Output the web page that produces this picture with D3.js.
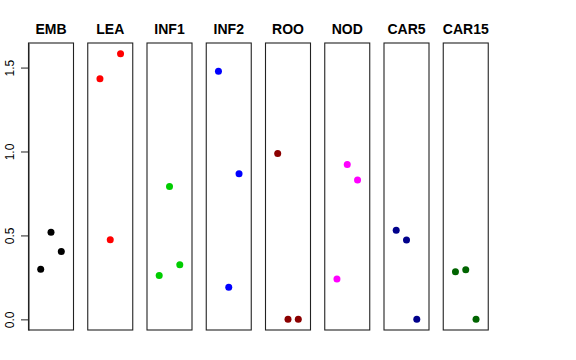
<!DOCTYPE html>
<html>
<head>
<meta charset="utf-8">
<script src="https://cdn.jsdelivr.net/npm/d3@7"></script>
<style>
  html, body { margin: 0; padding: 0; background: #fff; }
  svg { display: block; font-family: "Liberation Sans", Arial, Helvetica, sans-serif; }
</style>
</head>
<body>
<svg id="chart" width="576" height="360"></svg>
<script>
const categories = ["EMB", "LEA", "INF1", "INF2", "ROO", "NOD", "CAR5", "CAR15"];
const colors = ["#000000", "#FF0000", "#00CD00", "#0000FF", "#8B0000", "#FF00FF", "#00008B", "#006400"];
const valEMB  = [0.299, 0.519, 0.404];
const valLEA  = [1.434, 0.475, 1.583];
const valINF1 = [0.261, 0.792, 0.325];
const valINF2 = [1.478, 0.192, 0.867];
const valROO  = [0.988, 0.000, 0.000];
const valNOD  = [0.240, 0.923, 0.830];
const valCAR5 = [0.531, 0.473, 0.000];
const valCAR15 = [0.283, 0.295, 0.000];
const seriesValues = [valEMB, valLEA, valINF1, valINF2, valROO, valNOD, valCAR5, valCAR15];
const yTicks = [0, 0.5, 1, 1.5];
const yTickLabels = ["0.0", "0.5", "1.0", "1.5"];

const svg = d3.select("#chart");
const plotTop = 43, plotBottom = 330;
const yMax = d3.max(seriesValues.flat());
const pad = 0.04 * yMax;
const y = d3.scaleLinear().domain([-pad, yMax + pad]).range([plotBottom, plotTop]);

const xPanel = d3.scaleBand().domain(categories)
  .range([28.5, 488.25]).paddingInner(14.25 / 59.25).paddingOuter(0).align(0);

categories.forEach((cat, i) => {
  const x0 = xPanel(cat);
  const w = xPanel.bandwidth();
  const cx = x0 + w / 2;
  const xIn = d3.scaleLinear().domain([1, 3]).range([cx - 10.3, cx + 10.3]);
  const g = svg.append("g");
  g.append("rect")
    .attr("x", x0).attr("y", plotTop)
    .attr("width", w).attr("height", plotBottom - plotTop)
    .attr("fill", "none").attr("stroke", "#222").attr("stroke-width", 1.1);
  g.append("text")
    .attr("x", cx).attr("y", 34)
    .attr("text-anchor", "middle")
    .attr("font-weight", "bold").attr("font-size", 14)
    .text(cat);
  g.selectAll("circle").data(seriesValues[i]).enter().append("circle")
    .attr("cx", (d, j) => xIn(j + 1))
    .attr("cy", d => y(d))
    .attr("r", 3.5)
    .attr("fill", colors[i]);
});

// y axis
const yAxis = d3.axisLeft(y).tickValues(yTicks)
  .tickFormat((d, i) => yTickLabels[i]).tickSize(7.5).tickSizeOuter(0);
const ax = svg.append("g").attr("transform", `translate(${xPanel(categories[0])},0)`).call(yAxis);
ax.select(".domain").attr("stroke", "#222");
ax.selectAll(".tick line").attr("stroke", "#222");
ax.selectAll(".tick text")
  .attr("font-size", 12)
  .attr("font-family", "Liberation Sans, Arial, sans-serif")
  .attr("fill", "#000")
  .attr("text-anchor", "middle")
  .attr("dy", null).attr("x", null)
  .attr("transform", "translate(-14.5,0) rotate(-90)");
</script>
</body>
</html>
